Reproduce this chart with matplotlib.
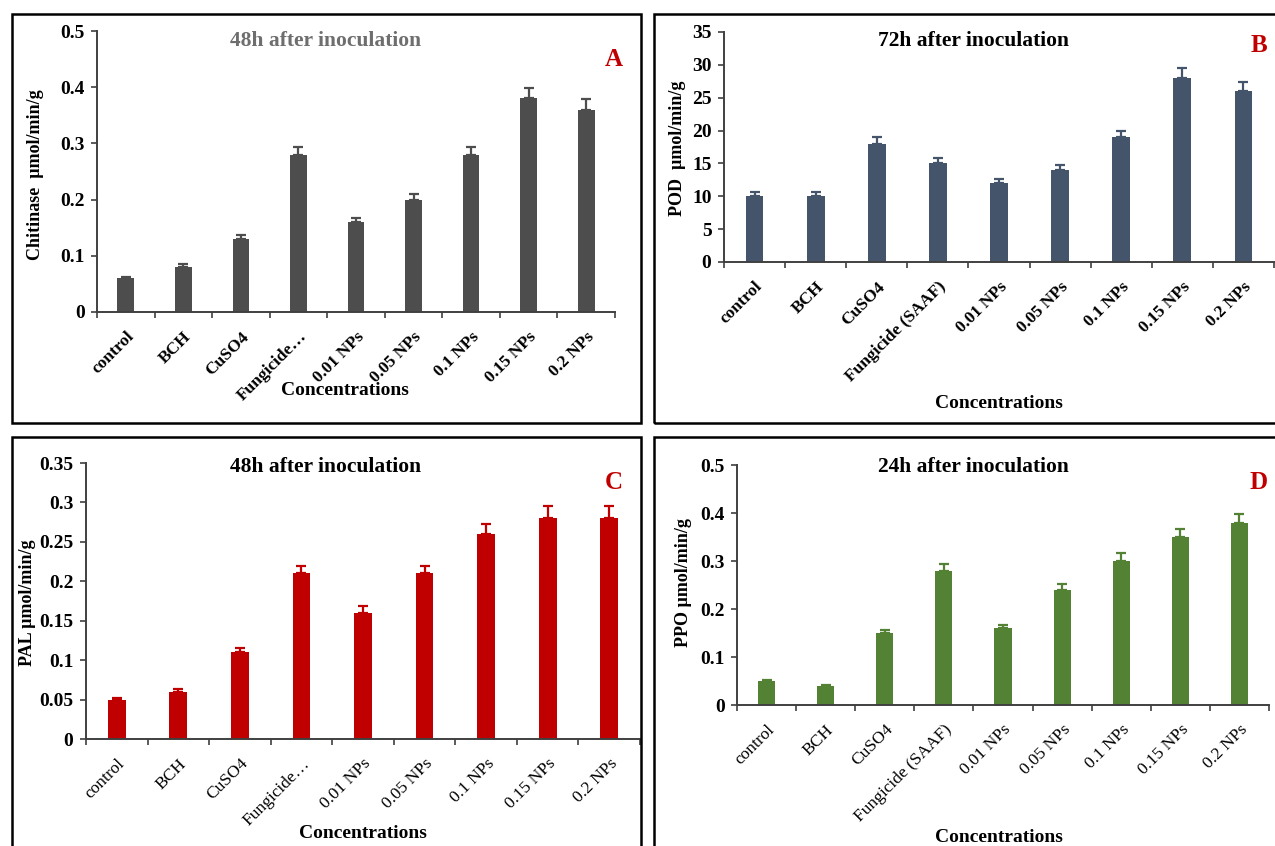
import numpy as np
import matplotlib
matplotlib.use("Agg")
import matplotlib.pyplot as plt
from matplotlib.patches import Rectangle
from matplotlib.ticker import FixedLocator

plt.rcParams['font.family'] = ['Liberation Serif', 'DejaVu Serif']

W, H = 1275, 846

categories_short = ["control", "BCH", "CuSO4", "Fungicide\u2026", "0.01 NPs",
                    "0.05 NPs", "0.1 NPs", "0.15 NPs", "0.2 NPs"]
categories_long = ["control", "BCH", "CuSO4", "Fungicide (SAAF)", "0.01 NPs",
                   "0.05 NPs", "0.1 NPs", "0.15 NPs", "0.2 NPs"]

chitinase = [0.06, 0.08, 0.13, 0.28, 0.16, 0.20, 0.28, 0.38, 0.36]
chitinase_err = [0.003, 0.005, 0.007, 0.013, 0.008, 0.010, 0.013, 0.019, 0.019]

pod = [10, 10, 18, 15, 12, 14, 19, 28, 26]
pod_err = [0.6, 0.6, 1.0, 0.8, 0.6, 0.7, 1.0, 1.5, 1.4]

pal = [0.05, 0.06, 0.11, 0.21, 0.16, 0.21, 0.26, 0.28, 0.28]
pal_err = [0.002, 0.004, 0.006, 0.010, 0.009, 0.010, 0.013, 0.015, 0.015]

ppo = [0.05, 0.04, 0.15, 0.28, 0.16, 0.24, 0.30, 0.35, 0.38]
ppo_err = [0.003, 0.002, 0.007, 0.014, 0.007, 0.012, 0.016, 0.017, 0.018]

yticks_A = [0, 0.1, 0.2, 0.3, 0.4, 0.5]
yticklabels_A = ["0", "0.1", "0.2", "0.3", "0.4", "0.5"]
yticks_B = [0, 5, 10, 15, 20, 25, 30, 35]
yticklabels_B = ["0", "5", "10", "15", "20", "25", "30", "35"]
yticks_C = [0, 0.05, 0.1, 0.15, 0.2, 0.25, 0.3, 0.35]
yticklabels_C = ["0", "0.05", "0.1", "0.15", "0.2", "0.25", "0.3", "0.35"]
yticks_D = [0, 0.1, 0.2, 0.3, 0.4, 0.5]
yticklabels_D = ["0", "0.1", "0.2", "0.3", "0.4", "0.5"]

fig = plt.figure(figsize=(W / 100, H / 100), dpi=100)


def frame(x0, y0, x1, y1):
    fig.patches.append(Rectangle((x0 / W, 1 - y1 / H), (x1 - x0) / W, (y1 - y0) / H,
                                 transform=fig.transFigure, fill=False,
                                 edgecolor='black', linewidth=1.8, zorder=0))


frame(12, 14, 641, 423)
frame(654, 14, 1280, 423)
frame(12, 437, 641, 860)
frame(654, 437, 1280, 860)


def panel(x0, x1, ytop, ybot, vals, errs, color, yticks, ylabels, ymax,
          labels, bold_x):
    ax = fig.add_axes([x0 / W, 1 - ybot / H, (x1 - x0) / W, (ybot - ytop) / H])
    x = np.arange(len(vals))
    ax.bar(x, vals, width=0.29, color=color, zorder=2)
    ax.errorbar(x, vals, yerr=[np.zeros(len(vals)), errs], fmt='none',
                ecolor=color, elinewidth=1.6, capsize=3.5, capthick=1.6, zorder=3)
    ax.set_xlim(-0.5, len(vals) - 0.5)
    ax.set_ylim(0, ymax)
    for s in ['top', 'right']:
        ax.spines[s].set_visible(False)
    for s in ['left', 'bottom']:
        ax.spines[s].set_color('#404040')
        ax.spines[s].set_linewidth(1.4)
    ax.set_yticks(yticks)
    ax.set_yticklabels(ylabels, fontsize=14, fontweight='bold')
    ax.tick_params(axis='y', direction='out', length=4, width=1.2, color='#404040', pad=5)
    ax.set_xticks(x)
    ax.set_xticklabels(labels, rotation=45, ha='right', rotation_mode='anchor',
                       fontsize=12.5, fontweight='bold' if bold_x else 'normal')
    ax.tick_params(axis='x', which='major', length=0, pad=12)
    ax.xaxis.set_minor_locator(FixedLocator(np.arange(-0.5, len(vals), 1.0)))
    ax.tick_params(axis='x', which='minor', direction='out', length=4, width=1.2,
                   color='#404040')
    ax.patch.set_alpha(0)
    return ax


panel(97, 615, 31, 312, chitinase, chitinase_err, '#4d4d4d', yticks_A, yticklabels_A, 0.5,
      categories_short, True)
panel(724, 1274, 32, 262, pod, pod_err, '#44546a', yticks_B, yticklabels_B, 35,
      categories_long, True)
panel(86, 640, 463, 739, pal, pal_err, '#c00000', yticks_C, yticklabels_C, 0.35,
      categories_short, False)
panel(737, 1269, 465, 705, ppo, ppo_err, '#548235', yticks_D, yticklabels_D, 0.5,
      categories_long, False)


def ftext(x, y, s, **kw):
    fig.text(x / W, 1 - y / H, s, **kw)


# titles
ftext(326, 41, "48h after inoculation", ha='center', va='center', fontsize=15.5,
      fontweight='bold', color='#6e6e6e')
ftext(973, 41, "72h after inoculation", ha='center', va='center', fontsize=15.5,
      fontweight='bold', color='black')
ftext(326, 467, "48h after inoculation", ha='center', va='center', fontsize=15.5,
      fontweight='bold', color='black')
ftext(973, 467, "24h after inoculation", ha='center', va='center', fontsize=15.5,
      fontweight='bold', color='black')

# panel letters
for (lx, ly, L) in [(614, 60, 'A'), (1259, 45, 'B'), (614, 482, 'C'), (1259, 482, 'D')]:
    ftext(lx, ly, L, ha='center', va='center', fontsize=18, fontweight='bold',
          color='#c00000')

# y labels
ftext(36, 175, "Chitinase  \u00b5mol/min/g", ha='center', va='center', rotation=90,
      fontsize=13, fontweight='bold')
ftext(677, 148, "POD  \u00b5mol/min/g", ha='center', va='center', rotation=90,
      fontsize=13, fontweight='bold')
ftext(28, 603, "PAL \u00b5mol/min/g", ha='center', va='center', rotation=90,
      fontsize=13, fontweight='bold')
ftext(684, 583, "PPO \u00b5mol/min/g", ha='center', va='center', rotation=90,
      fontsize=13, fontweight='bold')

# x labels
ftext(345, 390, "Concentrations", ha='center', va='center', fontsize=14, fontweight='bold')
ftext(999, 403, "Concentrations", ha='center', va='center', fontsize=14, fontweight='bold')
ftext(363, 833, "Concentrations", ha='center', va='center', fontsize=14, fontweight='bold')
ftext(999, 837, "Concentrations", ha='center', va='center', fontsize=14, fontweight='bold')

fig.savefig("out.png", dpi=100)
